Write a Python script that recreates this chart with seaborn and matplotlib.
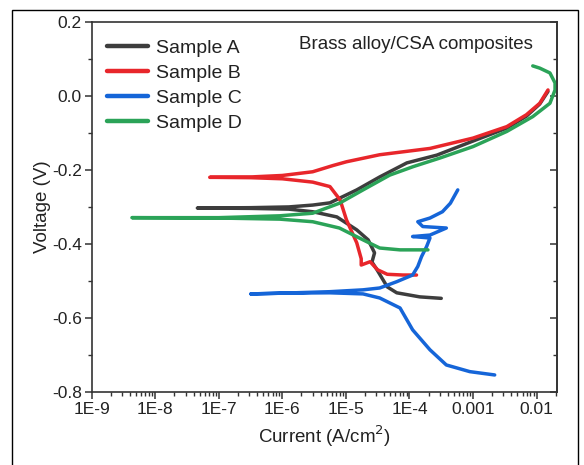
import matplotlib
matplotlib.use("Agg")
import matplotlib.pyplot as plt
import matplotlib.ticker as mticker
from matplotlib.patches import Rectangle
from matplotlib.lines import Line2D
import seaborn as sns
import pandas as pd

# ---- data (current in A/cm^2, potential in V) ----
a_current = [3.16e-4, 1.45e-4, 6.3e-5, 4.47e-5, 3.09e-5, 2.57e-5, 2.82e-5, 2.24e-5,
             1.48e-5, 7.2e-6, 3.0e-6, 1.26e-6, 3.2e-7, 4.6e-8,
             3.2e-7, 1.26e-6, 3.0e-6, 5.6e-6, 1.48e-5, 3.4e-5, 9.1e-5, 2.7e-4,
             1.0e-3, 3.4e-3, 6.9e-3, 1.12e-2, 1.51e-2]
a_voltage = [-0.547, -0.543, -0.532, -0.516, -0.470, -0.449, -0.424, -0.389,
             -0.362, -0.327, -0.313, -0.306, -0.304, -0.303,
             -0.302, -0.300, -0.295, -0.289, -0.254, -0.219, -0.181, -0.160,
             -0.122, -0.087, -0.055, -0.022, 0.012]

b_current = [1.29e-4, 7.9e-5, 4.47e-5, 3.16e-5, 2.4e-5, 1.74e-5, 1.74e-5, 1.48e-5,
             1.02e-5, 8.1e-6, 5.6e-6, 3.0e-6, 1.0e-6, 3.2e-7, 7.2e-8,
             3.2e-7, 1.0e-6, 3.0e-6, 6.3e-6, 1.02e-5, 3.4e-5, 2.1e-4,
             1.0e-3, 3.4e-3, 6.9e-3, 1.12e-2, 1.51e-2]
b_voltage = [-0.484, -0.484, -0.482, -0.470, -0.448, -0.457, -0.440, -0.397,
             -0.335, -0.281, -0.245, -0.233, -0.224, -0.221, -0.220,
             -0.219, -0.215, -0.205, -0.188, -0.178, -0.159, -0.142,
             -0.114, -0.083, -0.051, -0.020, 0.016]

c_current = [2.19e-3, 8.9e-4, 3.8e-4, 2.1e-4, 1.12e-4, 7.1e-5, 3.4e-5, 1.86e-5,
             5.6e-6, 1.0e-6, 3.2e-7,
             1.0e-6, 5.6e-6, 1.86e-5, 3.4e-5, 6.3e-5, 1.12e-4, 1.35e-4, 1.55e-4,
             1.86e-4, 2.1e-4, 1.12e-4, 2.1e-4, 3.8e-4, 1.62e-4, 1.35e-4, 2.1e-4,
             3.3e-4, 4.4e-4, 5.75e-4]
c_voltage = [-0.754, -0.745, -0.727, -0.686, -0.632, -0.573, -0.546, -0.535,
             -0.532, -0.533, -0.535,
             -0.533, -0.529, -0.524, -0.519, -0.502, -0.484, -0.461, -0.434,
             -0.407, -0.384, -0.380, -0.376, -0.357, -0.353, -0.340, -0.330,
             -0.313, -0.290, -0.254]

d_current = [1.95e-4, 7.1e-5, 3.4e-5, 1.86e-5, 7.9e-6, 3.0e-6, 9.1e-7, 1.0e-7, 4.3e-9,
             1.0e-7, 9.1e-7, 3.0e-6, 7.9e-6, 1.86e-5, 4.9e-5, 1.15e-4, 3.0e-4,
             1.0e-3, 3.4e-3, 8.7e-3, 1.62e-2, 1.95e-2, 1.95e-2, 1.62e-2, 1.12e-2, 8.7e-3]
d_voltage = [-0.416, -0.416, -0.411, -0.389, -0.357, -0.340, -0.333, -0.330, -0.329,
             -0.329, -0.324, -0.317, -0.290, -0.254, -0.214, -0.191, -0.168,
             -0.137, -0.096, -0.056, -0.020, 0.016, 0.035, 0.062, 0.075, 0.081]

sample_names = ["Sample A", "Sample B", "Sample C", "Sample D"]
sample_colors = ["#3d3d3d", "#e8262b", "#1565d8", "#2ba358"]
x_tick_values = [1e-9, 1e-8, 1e-7, 1e-6, 1e-5, 1e-4, 1e-3, 1e-2]
x_tick_labels = ["1E-9", "1E-8", "1E-7", "1E-6", "1E-5", "1E-4", "0.001", "0.01"]
y_tick_values = [-0.8, -0.6, -0.4, -0.2, 0.0, 0.2]
y_tick_labels = ["-0.8", "-0.6", "-0.4", "-0.2", "0.0", "0.2"]

frames = []
for name, cur, vol in zip(sample_names,
                          [a_current, b_current, c_current, d_current],
                          [a_voltage, b_voltage, c_voltage, d_voltage]):
    frames.append(pd.DataFrame({"Current": cur, "Voltage": vol, "Sample": name}))
df = pd.concat(frames, ignore_index=True)

sns.set_theme(style="white")
plt.rcParams["font.family"] = ["Liberation Sans", "DejaVu Sans"]

fig = plt.figure(figsize=(5.84, 4.65), dpi=100)
ax = fig.add_axes([0.157, 0.157, 0.796, 0.796])

sns.lineplot(data=df, x="Current", y="Voltage", hue="Sample",
             palette=dict(zip(sample_names, sample_colors)),
             sort=False, estimator=None, units="Sample", lw=2.5, ax=ax,
             legend=False)

ax.set_xscale("log")
ax.set_xlim(1e-9, 0.0206)
ax.set_ylim(-0.8, 0.2)

ax.set_xticks(x_tick_values)
ax.set_xticklabels(x_tick_labels)
ax.xaxis.set_minor_locator(mticker.LogLocator(base=10, subs=range(2, 10), numticks=20))
ax.xaxis.set_minor_formatter(mticker.NullFormatter())
ax.set_yticks(y_tick_values)
ax.set_yticklabels(y_tick_labels)
ax.yaxis.set_minor_locator(mticker.MultipleLocator(0.1))

for s in ax.spines.values():
    s.set_color("#333333")
    s.set_linewidth(1.2)

ax.tick_params(axis="both", which="major", direction="out", length=5, width=1.1,
               colors="#333333", labelsize=12.5, labelcolor="#222222", pad=2)
ax.tick_params(axis="both", which="minor", direction="out", length=3, width=1.0,
               colors="#333333")
ax.tick_params(axis="both", which="both", bottom=True, left=True)
ax.grid(False)

# inward ticks on the right spine, mirroring the left axis
ax_r = ax.secondary_yaxis("right")
ax_r.set_yticks(y_tick_values)
ax_r.yaxis.set_minor_locator(mticker.MultipleLocator(0.1))
ax_r.tick_params(which="major", direction="in", length=5, width=1.1,
                 colors="#333333", labelright=False)
ax_r.tick_params(which="minor", direction="in", length=3, width=1.0,
                 colors="#333333")
ax_r.spines["right"].set_color("#333333")
ax_r.spines["right"].set_linewidth(1.2)

ax.set_xlabel("Current (A/cm$^2$)", fontsize=13.5, color="#222222", labelpad=5)
ax.set_ylabel("Voltage (V)", fontsize=13.5, color="#222222", labelpad=1)

handles = [Line2D([0], [0], color=c, lw=3.2) for c in sample_colors]
leg = ax.legend(handles, sample_names, loc="upper left", frameon=False,
                fontsize=14, handlelength=2.1, handletextpad=0.4,
                labelspacing=0.38, borderaxespad=0.0, borderpad=0.0,
                bbox_to_anchor=(0.033, 0.953))
for t in leg.get_texts():
    t.set_color("#222222")

ax.text(0.949, 0.938, "Brass alloy/CSA composites", transform=ax.transAxes,
        ha="right", va="center", fontsize=13.5, color="#222222")

fig.patches.append(Rectangle((0.021, -0.01), 0.969, 0.988, transform=fig.transFigure,
                             fill=False, edgecolor="black", lw=1.0))

fig.savefig("out.png", dpi=100)
